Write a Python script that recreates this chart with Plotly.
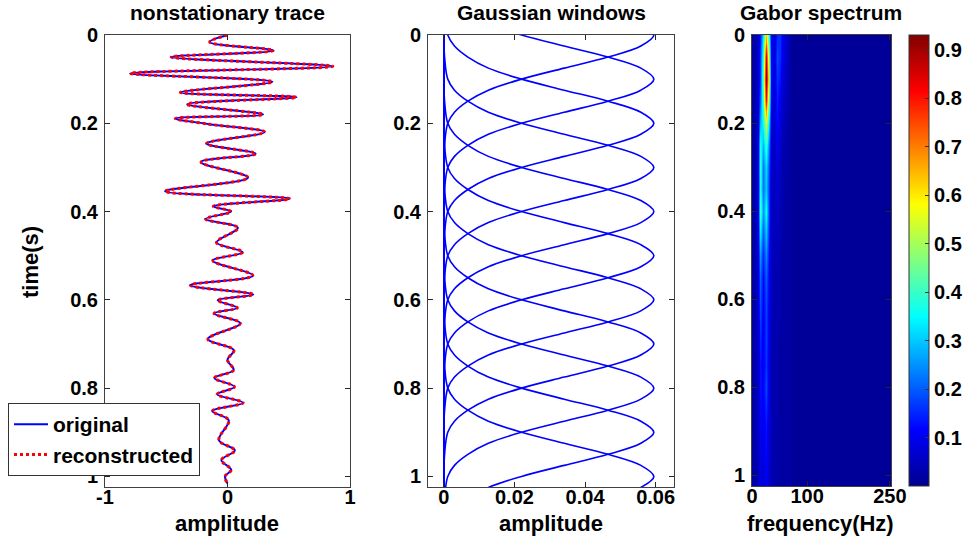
import plotly.graph_objects as go

# ---------------- data ----------------
# nonstationary trace: turning points (time in s, amplitude)
trace_time = [0.000, 0.016, 0.035, 0.050, 0.071, 0.087, 0.106, 0.130, 0.141, 0.157,
              0.180, 0.189, 0.202, 0.220, 0.246, 0.269, 0.288, 0.323, 0.354, 0.371,
              0.388, 0.400, 0.417, 0.437, 0.470, 0.492, 0.511, 0.545, 0.567, 0.588,
              0.601, 0.618, 0.631, 0.653, 0.689, 0.714, 0.736, 0.759, 0.777, 0.797,
              0.814, 0.833, 0.852, 0.873, 0.918, 0.941, 0.963, 0.985, 1.000, 1.016]
trace_amp = [0.000, -0.145, 0.375, -0.460, 0.860, -0.795, 0.366, -0.385, 0.563, -0.330,
             0.290, -0.426, -0.150, 0.303, -0.172, 0.230, -0.216, 0.167, -0.510, 0.508,
             -0.117, 0.030, -0.180, 0.085, -0.090, 0.125, -0.120, 0.207, -0.303, 0.210,
             -0.080, 0.080, -0.110, 0.105, -0.160, 0.052, 0.000, 0.050, -0.107, 0.057,
             -0.085, 0.128, -0.125, 0.010, -0.070, 0.060, -0.050, 0.030, -0.020, 0.000]

# Gaussian windows: centres and one window profile (offset from centre, amplitude)
window_centres = [0.0, 0.1, 0.2, 0.3, 0.4, 0.5, 0.6, 0.7, 0.8, 0.9, 1.0]
profile_offset = [0.0, 0.025, 0.05, 0.075, 0.1, 0.125, 0.15, 0.175, 0.2, 0.25, 0.3, 1.3]
profile_amp = [0.0595, 0.0558, 0.0465, 0.0341, 0.0220, 0.0126, 0.0068, 0.0030, 0.0011,
               0.0002, 0.0, 0.0]

# Gabor spectrum: times (s) x low frequencies (Hz); higher frequencies are background
spec_times = [0.00, 0.05, 0.10, 0.15, 0.20, 0.25, 0.30, 0.35, 0.40, 0.45, 0.50,
              0.55, 0.60, 0.65, 0.70, 0.75, 0.80, 0.85, 0.90, 0.95, 1.00]
spec_freqs_low = [0, 5, 10, 15, 20, 25, 30, 35, 40, 45, 50, 55, 60, 65, 70]
spec_rows = [
    [.02, .03, .06, .14, .32, .62, .35, .10, .08, .15, .16, .10, .08, .04, .02],
    [.02, .03, .07, .16, .40, .85, .45, .10, .08, .18, .15, .10, .07, .04, .02],
    [.02, .03, .07, .16, .45, .93, .50, .10, .08, .16, .13, .08, .06, .03, .02],
    [.02, .03, .08, .20, .42, .80, .42, .10, .07, .14, .10, .06, .05, .03, .02],
    [.02, .03, .08, .28, .36, .55, .30, .08, .06, .12, .08, .05, .04, .02, .02],
    [.02, .03, .10, .38, .28, .40, .22, .07, .05, .10, .06, .04, .03, .02, .02],
    [.02, .03, .10, .40, .22, .32, .18, .06, .05, .08, .05, .03, .03, .02, .02],
    [.02, .03, .10, .38, .22, .30, .16, .06, .04, .07, .05, .03, .02, .02, .02],
    [.02, .03, .10, .42, .25, .36, .16, .06, .04, .06, .04, .03, .02, .02, .02],
    [.02, .03, .10, .34, .20, .30, .14, .05, .04, .05, .04, .03, .02, .02, .02],
    [.02, .03, .09, .26, .15, .24, .12, .05, .04, .05, .03, .02, .02, .02, .02],
    [.02, .03, .08, .21, .12, .20, .10, .05, .03, .04, .03, .02, .02, .02, .02],
    [.02, .03, .08, .19, .11, .18, .10, .05, .03, .04, .03, .02, .02, .02, .02],
    [.02, .03, .07, .17, .10, .17, .09, .04, .03, .04, .03, .02, .02, .02, .02],
    [.02, .03, .07, .15, .10, .17, .09, .04, .03, .03, .02, .02, .02, .02, .02],
    [.02, .03, .06, .13, .10, .16, .08, .04, .03, .03, .02, .02, .02, .02, .02],
    [.02, .03, .06, .13, .11, .18, .08, .04, .03, .03, .02, .02, .02, .02, .02],
    [.02, .03, .06, .12, .10, .15, .08, .04, .03, .03, .02, .02, .02, .02, .02],
    [.02, .03, .06, .11, .09, .13, .07, .04, .03, .03, .02, .02, .02, .02, .02],
    [.02, .03, .05, .10, .08, .12, .07, .04, .03, .03, .02, .02, .02, .02, .02],
    [.02, .03, .05, .09, .07, .11, .06, .04, .03, .03, .02, .02, .02, .02, .02],
]
spec_freqs_high = list(range(75, 255, 5))
spec_background = 0.01

# tick labels
trace_xticks = [-1, 0, 1]
trace_xticktext = ["-1", "0", "1"]
win_xticks = [0, 0.02, 0.04, 0.06]
win_xticktext = ["0", "0.02", "0.04", "0.06"]
spec_xticks = [0, 100, 250]
time_ticks = [0, 0.2, 0.4, 0.6, 0.8, 1.0]
time_ticktext = ["0", "0.2", "0.4", "0.6", "0.8", "1"]
cbar_ticks = [0.1, 0.2, 0.3, 0.4, 0.5, 0.6, 0.7, 0.8, 0.9]

# ---------------- figure ----------------
W, H = 967, 541
FONT = "Liberation Sans, Arial, sans-serif"

def px_x(p):
    return p / W

def px_y(p):
    return 1 - p / H

fig = go.Figure()

# panel 1
fig.add_trace(go.Scatter(x=trace_amp, y=trace_time, mode="lines", name="original",
                         line=dict(color="rgb(0,0,255)", width=2, shape="spline", smoothing=1.0),
                         xaxis="x", yaxis="y"))
fig.add_trace(go.Scatter(x=trace_amp, y=trace_time, mode="lines", name="reconstructed",
                         line=dict(color="rgb(255,0,0)", width=3, dash="dot", shape="spline", smoothing=1.0),
                         xaxis="x", yaxis="y"))

# panel 2
for c in window_centres:
    ys = [c - o for o in reversed(profile_offset)] + [c + o for o in profile_offset[1:]]
    xs = list(reversed(profile_amp)) + profile_amp[1:]
    fig.add_trace(go.Scatter(x=xs, y=ys, mode="lines", showlegend=False,
                             line=dict(color="rgb(0,0,255)", width=1.6, shape="spline", smoothing=1.0),
                             xaxis="x2", yaxis="y2"))

# panel 3
spec_freqs = spec_freqs_low + spec_freqs_high
spec_z = [row + [spec_background] * len(spec_freqs_high) for row in spec_rows]
jet = [[0.0, "rgb(0,0,143)"], [0.125, "rgb(0,0,255)"], [0.375, "rgb(0,255,255)"],
       [0.625, "rgb(255,255,0)"], [0.875, "rgb(255,0,0)"], [1.0, "rgb(128,0,0)"]]
fig.add_trace(go.Heatmap(x=spec_freqs, y=spec_times, z=spec_z, zsmooth="best",
                         colorscale=jet, zmin=0.0, zmax=0.93, showscale=True,
                         xaxis="x3", yaxis="y3",
                         colorbar=dict(x=px_x(909), xanchor="left", xpad=0, ypad=0,
                                       y=px_y(486), yanchor="bottom", len=(486 - 35) / H,
                                       lenmode="fraction", thickness=20,
                                       outlinecolor="#333", outlinewidth=1,
                                       tickvals=cbar_ticks, ticks="inside", ticklen=4,
                                       tickcolor="#333",
                                       tickfont=dict(family=FONT, size=20, color="black", weight="bold"))))

ydom = [px_y(487), px_y(35)]
axis_common = dict(showline=True, mirror="ticks", linecolor="#404040", linewidth=1,
                   ticks="inside", ticklen=5, tickcolor="#262626", showgrid=False,
                   zeroline=False, automargin=False,
                   tickfont=dict(family=FONT, size=20, color="black", weight="bold"))
xaxis_extra = dict(ticklabelstandoff=-8)
yaxis_extra = dict(ticklabelstandoff=2)

fig.update_layout(
    width=W, height=H, margin=dict(l=0, r=0, t=0, b=0, autoexpand=False),
    paper_bgcolor="white", plot_bgcolor="white",
    font=dict(family=FONT, color="black"),
    xaxis=dict(domain=[px_x(105), px_x(350)], range=[-1, 1], tickvals=trace_xticks,
               ticktext=trace_xticktext, anchor="y", **axis_common, **xaxis_extra),
    yaxis=dict(domain=ydom, range=[1.024, 0], tickvals=time_ticks, ticktext=time_ticktext,
               anchor="x", **axis_common, **yaxis_extra),
    xaxis2=dict(domain=[px_x(428), px_x(674)], range=[-0.0045, 0.0652], tickvals=win_xticks,
                ticktext=win_xticktext, anchor="y2", **axis_common, **xaxis_extra),
    yaxis2=dict(domain=ydom, range=[1.024, 0], tickvals=time_ticks, ticktext=time_ticktext,
                anchor="x2", **axis_common, **yaxis_extra),
    xaxis3=dict(domain=[px_x(752), px_x(891)], range=[0, 252], tickvals=spec_xticks,
                anchor="y3", **axis_common, **xaxis_extra),
    yaxis3=dict(domain=[px_y(486), px_y(35)], range=[1.024, 0], tickvals=time_ticks,
                ticktext=time_ticktext, anchor="x3", **axis_common, **yaxis_extra),
    legend=dict(x=px_x(8), y=px_y(403), xanchor="left", yanchor="top",
                bgcolor="white", bordercolor="#333", borderwidth=1,
                font=dict(family=FONT, size=21, color="black", weight="bold"),
                itemwidth=34, tracegroupgap=0),
    showlegend=True,
)

titles = [("nonstationary trace", 227, 13), ("Gaussian windows", 551, 13), ("Gabor spectrum", 821, 13)]
for text, x, y in titles:
    fig.add_annotation(text=text, x=px_x(x), y=px_y(y), xref="paper", yref="paper",
                       showarrow=False, xanchor="center", yanchor="middle",
                       font=dict(family=FONT, size=21, color="black", weight="bold"))

labels = [("amplitude", 227, 523, 0), ("amplitude", 551, 523, 0),
          ("frequency(Hz)", 820, 523, 0), ("time(s)", 30, 262, -90)]
for text, x, y, ang in labels:
    fig.add_annotation(text=text, x=px_x(x), y=px_y(y), xref="paper", yref="paper",
                       showarrow=False, xanchor="center", yanchor="middle", textangle=ang,
                       font=dict(family=FONT, size=22, color="black", weight="bold"))

# the page's default 8px body margin would shift the 967x541 figure; remove it
fig.write_html("out.html", config={"displayModeBar": False},
               post_script="document.body.style.margin='0px';")
